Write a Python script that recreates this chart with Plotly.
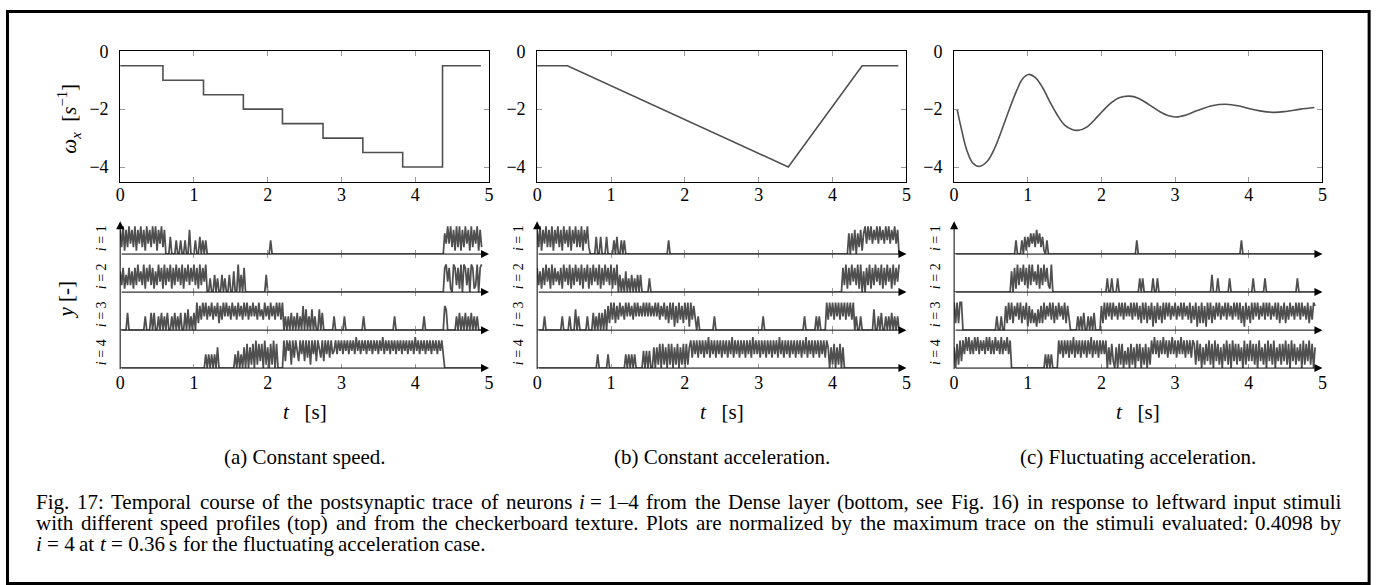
import re
import plotly.graph_objects as go

W, H = 1390, 585
FONT = "Liberation Serif"
DT = 0.02
N = 246  # samples 0 .. 4.90 s

# ---------------- top row: stimulus angular velocity omega_x [1/s] ----------------
a_t = [0.0, 0.58, 1.13, 1.67, 2.20, 2.75, 3.29, 3.83, 4.37, 4.89]
a_w = [-0.5, -1.0, -1.5, -2.0, -2.5, -3.0, -3.5, -4.0, -0.5, -0.5]

b_t = [0.0, 0.41, 3.40, 4.40, 4.89]
b_w = [-0.5, -0.5, -4.0, -0.5, -0.5]

c_t = [0.04, 0.10, 0.17, 0.25, 0.34, 0.45, 0.55, 0.65, 0.75, 0.85, 0.93, 1.01, 1.10,
       1.20, 1.30, 1.40, 1.50, 1.60, 1.69, 1.80, 1.95, 2.10, 2.25, 2.38, 2.50, 2.65,
       2.80, 2.90, 3.01, 3.15, 3.30, 3.50, 3.69, 3.85, 4.00, 4.15, 4.35, 4.50, 4.70, 4.89]
c_w = [-2.0, -2.7, -3.4, -3.85, -3.98, -3.8, -3.35, -2.7, -2.0, -1.35, -0.95, -0.80, -0.90,
       -1.25, -1.75, -2.2, -2.55, -2.7, -2.73, -2.62, -2.25, -1.85, -1.6, -1.55, -1.62, -1.85,
       -2.1, -2.22, -2.27, -2.2, -2.05, -1.88, -1.83, -1.88, -1.98, -2.06, -2.11, -2.08, -2.0, -1.94]

# ---------------- bottom row: postsynaptic traces y (0..9 = 0..max), dt = 0.02 s ----------------
# each entry: (start time [s], successive sample values); samples not listed are 0
a1 = [(0.00, "72817 28372 81738 27183 72838 17382 7"),
      (0.68, "5"), (0.76, "4"), (0.82, "4"), (0.88, "4"), (0.94, "7"),
      (1.02, "4"), (1.08, "5"), (1.12, "4"), (1.16, "4"), (2.04, "4"),
      (4.40, "63838 27182 81728 37182 73817 2")]
a2 = [(0.00, "62715 27261 72836 28173 82716 28371 82738 17283 72817 38273 82718 2738"),
      (1.22, "4"), (1.28, "5"), (1.32, "4"), (1.38, "5"), (1.42, "4"), (1.48, "5"),
      (1.54, "6"), (1.60, "8"), (1.64, "5"), (1.68, "7"), (1.98, "5"),
      (4.38, "07837 10872 71808 72708 71280 78")]
a3 = [(0.10, "5"), (0.34, "4"), (0.42, "5"), (0.46, "5"), (0.52, "4"), (0.56, "5"),
      (0.60, "4"), (0.64, "5"), (0.70, "4"), (0.74, "5"), (0.78, "4"), (0.82, "5"),
      (0.88, "5"), (0.92, "6"), (0.96, "4"), (1.00, "5"),
      (1.04, "82738 48374 83748 27384 84738 47384 73848 37484 73846 38473 84738 4838"),
      (2.24, "4"), (2.28, "4"), (2.32, "5"), (2.36, "4"), (2.40, "5"), (2.44, "4"),
      (2.48, "7"), (2.52, "6"), (2.56, "4"), (2.60, "6"), (2.64, "4"), (2.70, "6"),
      (2.74, "5"), (2.90, "4"), (3.04, "4"), (3.30, "4"), (3.72, "4"), (4.12, "4"),
      (4.40, "76"), (4.56, "4"), (4.60, "5"), (4.64, "4"), (4.68, "5"), (4.72, "4"),
      (4.76, "5"), (4.80, "4"), (4.84, "4")]
a4 = [(1.16, "4"), (1.20, "4"), (1.24, "4"), (1.28, "4"), (1.32, "6"),
      (1.56, "4"), (1.60, "5"), (1.64, "4"), (1.68, "6"),
      (1.72, "70617 08172 70816 07180 7"),
      (2.22, "82858 18385 28482 83818 48285 38284 8384"),
      (2.90, "58485 84858 48584 95848 58485 84858 48594 85848 58485 84858 48584 95848 58485 84858 48584")]

b1 = [(0.00, "72817 38272 81738 27183 72817 38272 81738 2"),
      (0.80, "5"), (0.86, "5"), (0.94, "5"), (1.04, "4"), (1.08, "5"),
      (1.14, "4"), (1.18, "4"), (1.78, "4"),
      (4.22, "60617 06271 6"),
      (4.44, "83848 37483 84738 48374 837")]
b2 = [(0.00, "72617 28371 82736 27183 72817 28372 81738 17283 72817 28372 81728"),
      (1.12, "5"), (1.16, "4"), (1.20, "6"), (1.24, "4"), (1.28, "5"), (1.32, "4"),
      (1.36, "5"), (1.40, "5"), (1.52, "4"),
      (4.14, "72817 28372 81806 07281 72837 28172 83718 2738")]
b3 = [(0.10, "4"), (0.34, "4"), (0.44, "4"), (0.52, "6"), (0.56, "4"), (0.68, "4"),
      (0.76, "5"), (0.80, "4"), (0.84, "5"), (0.88, "5"), (0.92, "6"),
      (0.96, "72838 27384 73848 47384 84748 48484 74848 37483 72838 17283 72838 18373"),
      (2.18, "4"), (2.40, "4"), (3.06, "4"), (3.62, "4"), (3.78, "4"), (3.82, "4"),
      (3.92, "83848 38483 84838 4838"),
      (4.32, "4"), (4.38, "4"), (4.56, "6"), (4.62, "4"), (4.66, "5"), (4.72, "4"),
      (4.76, "4"), (4.80, "5"), (4.84, "4"), (4.88, "4")]
b4 = [(0.82, "4"), (0.96, "4"), (1.20, "4"), (1.24, "4"), (1.28, "4"), (1.32, "4"),
      (1.44, "5"), (1.48, "5"), (1.52, "5"),
      (1.58, "60617 07160 71706 17061 70716"),
      (2.08, "83848 38483 84938 48384 83848 38493 84838 48384 83948 48384 83848 38483 "
             "94838 48384 83848 38493 84838 48384 838"),
      (3.94, "60617 06170 6")]

c1 = [(0.84, "4"), (0.92, "4"), (0.96, "5"),
      (0.98, "15263 62736 251"),
      (1.26, "4"), (2.48, "4"), (3.90, "4")]
c2 = [(0.78, "60718 27382 71828 36281 72837 2180"),
      (2.08, "4"), (2.14, "4"), (2.22, "4"), (2.52, "4"), (2.56, "4"), (2.70, "4"),
      (2.76, "4"), (3.50, "5"), (3.58, "4"), (3.74, "4"), (4.06, "4"), (4.22, "4"), (4.66, "4")]
c3 = [(0.00, "82828 8"),
      (0.58, "4"), (0.64, "4"),
      (0.70, "72838 27483 82738 17262 51627 28374 83827 38473 8273"),
      (1.68, "4"), (1.72, "4"), (1.76, "5"), (1.82, "4"), (1.86, "4"), (1.90, "5"),
      (2.00, "72838 48384 73848 38474 83848 37283 82738 17283 72838 48374 83748 38473 "
             "82738 17282 71838 27384 83748 38473 84838 27183 72838 48374 83848 37483 "
             "82738 27384 73848 38473 82738 7")]
c4 = [(0.00, "60718 2"),
      (0.12, "84959 48495 94858 49594 84958 49485 948"),
      (1.24, "4"), (1.28, "4"), (1.32, "4"),
      (1.42, "84838 48384 93848 38483 84938 48384 848"),
      (2.08, "06172 06071 70516 07160 72706 17061"),
      (2.68, "84948 38494 83849 48384 94838 4838"),
      (3.26, "71827 06172 81708 27160 72817 08271 72608 17282 71708 26170 82718 06271 "
             "72817 08271 62708 17281 706")]

x_ticks = [0, 1, 2, 3, 4, 5]
w_ticks = [0, -2, -4]
w_tick_text = ["0", "\u22122", "\u22124"]
row_labels = ["<i>i</i> = 1", "<i>i</i> = 2", "<i>i</i> = 3", "<i>i</i> = 4"]
sub_captions = ["(a) Constant speed.", "(b) Constant acceleration.", "(c) Fluctuating acceleration."]
caption_lines = [
    ["Fig.", "17:", "Temporal", "course", "of", "the", "postsynaptic", "trace", "of", "neurons",
     "<i>i</i> = 1\u20134", "from", "the", "Dense", "layer", "(bottom,", "see", "Fig.", "16)", "in",
     "response", "to", "leftward", "input", "stimuli"],
    ["with", "different", "speed", "profiles", "(top)", "and", "from", "the", "checkerboard",
     "texture.", "Plots", "are", "normalized", "by", "the", "maximum", "trace", "on", "the",
     "stimuli", "evaluated:", "0.4098", "by"],
    ["<i>i</i> = 4", "at", "<i>t</i> = 0.36", "s", "for", "the", "fluctuating", "acceleration", "case."],
]

# ---------------- helpers ----------------
t_grid = [round(k * DT, 2) for k in range(N)]


def expand(events):
    v = [0] * N
    for t0, s in events:
        s = s.replace(" ", "")
        k0 = int(round(t0 / DT))
        for j, ch in enumerate(s):
            if k0 + j < N:
                v[k0 + j] = int(ch)
    return v


_TW = {}
for chars, w in [(" ,.", 250), ("ijlt:;/", 278), ("()[]-fr!I", 333), ("sJ", 389),
                 ("acez", 444), ("bdghknopquvxy0123456789\u2013", 500), ("FPS", 556),
                 ("=", 564), ("ETLZ", 611), ("BCR", 667), ("ADGHKNOQUVXYw", 722),
                 ("m", 778), ("M", 889), ("W", 944)]:
    for ch in chars:
        _TW[ch] = w


def text_width(s, size):
    s = re.sub("<[^>]+>", "", s)
    return sum(_TW.get(ch, 500) for ch in s) * size / 1000.0


def px(x):
    return x / W


def py(y):
    return 1 - y / H


def label(x, y, s, size, angle=0, xanchor="center", yanchor="middle"):
    return dict(x=px(x), y=py(y), xref="paper", yref="paper", text=s, showarrow=False,
                font=dict(family=FONT, size=size, color="black"), textangle=angle,
                xanchor=xanchor, yanchor=yanchor, borderpad=0, borderwidth=0)


# ---------------- geometry (pixels) ----------------
PANEL_X = [(116, 487.5), (536, 908), (956, 1327)]
TOP_Y = (42, 174.5)
BASE = [248.3, 287.0, 325.7, 364.3]
ROWH = 38.67

LINE_C = "#505050"
TICK_C = "#9a9a9a"
TICKFONT = dict(family=FONT, size=18, color="black")

fig = go.Figure()
layout = dict(width=W, height=H, margin=dict(l=0, r=0, t=0, b=0),
              paper_bgcolor="white", plot_bgcolor="rgba(0,0,0,0)", showlegend=False)
annotations = []
shapes = []

top_series = [(a_t, a_w, "hv"), (b_t, b_w, "linear"), (c_t, c_w, "spline")]
bottom_series = [[a1, a2, a3, a4], [b1, b2, b3, b4], [c1, c2, c3, c4]]


def ax_name(kind, n):
    return f"{kind}axis" if n == 1 else f"{kind}axis{n}"


def ref(kind, n):
    return kind if n == 1 else f"{kind}{n}"


for p in range(3):
    x0, x1 = PANEL_X[p]
    n = p + 1
    layout[ax_name("x", n)] = dict(
        domain=[px(x0), px(x1)], range=[0, 5], anchor=ref("y", n),
        showline=True, linecolor="black", linewidth=1, mirror="ticks",
        ticks="inside", ticklen=5, tickcolor=TICK_C, tickwidth=1,
        tickvals=x_ticks, tickfont=TICKFONT, ticklabelstandoff=-3,
        showgrid=False, zeroline=False)
    layout[ax_name("y", n)] = dict(
        domain=[py(TOP_Y[1]), py(TOP_Y[0])], range=[-4.5, 0], anchor=ref("x", n),
        showline=True, linecolor="black", linewidth=1, mirror="ticks",
        ticks="inside", ticklen=5, tickcolor=TICK_C, tickwidth=1,
        tickvals=w_ticks, ticktext=w_tick_text, tickfont=TICKFONT, ticklabelstandoff=7,
        showgrid=False, zeroline=False)
    tx, ty, shp = top_series[p]
    line = dict(color=LINE_C, width=1.6, shape=shp)
    if shp == "spline":
        line["smoothing"] = 1.0
    fig.add_trace(go.Scatter(x=tx, y=ty, mode="lines", line=line,
                             xaxis=ref("x", n), yaxis=ref("y", n), hoverinfo="skip"))

    for r in range(4):
        m = 4 + p * 4 + r
        base = BASE[r]
        layout[ax_name("x", m)] = dict(
            domain=[px(x0), px(x1)], range=[0, 5], anchor=ref("y", m),
            showline=False, mirror=("ticks" if r > 0 else False),
            ticks="inside", ticklen=4, tickcolor=TICK_C, tickwidth=1,
            tickvals=x_ticks, showticklabels=(r == 3), tickfont=TICKFONT,
            ticklabelstandoff=2, showgrid=False, zeroline=False)
        layout[ax_name("y", m)] = dict(
            domain=[py(base), py(base - ROWH)], range=[0, 11], anchor=ref("x", m),
            visible=False, showgrid=False, zeroline=False)
        vals = expand(bottom_series[p][r])
        fig.add_trace(go.Scatter(x=t_grid, y=vals, mode="lines",
                                 line=dict(color="#4f4f4f", width=1.75),
                                 xaxis=ref("x", m), yaxis=ref("y", m), hoverinfo="skip"))
        # baseline arrow
        annotations.append(dict(x=5, y=0, xref=ref("x", m), yref=ref("y", m),
                                ax=0, ay=0, axref=ref("x", m), ayref=ref("y", m),
                                showarrow=True, arrowhead=2, arrowsize=1.6, arrowwidth=1,
                                arrowcolor="black", text="", standoff=0, startstandoff=0))
        annotations.append(label(x0 - 18, base - 16.5, row_labels[r], 14, angle=-90))
    # vertical y arrow
    m4 = 4 + p * 4 + 3
    annotations.append(dict(x=0, xref=ref("x", m4), y=py(215), yref="paper",
                            ax=0, ay=BASE[3] - 215, showarrow=True, arrowhead=2,
                            arrowsize=1.6, arrowwidth=1, arrowcolor="black", text="",
                            standoff=0, startstandoff=0))
    cx = (x0 + x1) / 2
    annotations.append(label(cx, 409, "<i>t</i>\u00a0\u00a0\u00a0[s]", 21))
    annotations.append(label(cx, 455, sub_captions[p], 21))

annotations.append(label(64, 111, "<i>\u03c9<sub>x</sub></i>\u00a0\u00a0[<i>s</i><sup>\u22121</sup>]", 21, angle=-90))
annotations.append(label(61, 295, "<i>y</i>\u00a0[-]", 21, angle=-90))

# caption: lines 1-2 justified between the text margins, line 3 flush left
CAP_X0, CAP_X1 = 31, 1346
CAP_SIZE = 21
CAP_Y = [501, 522, 543]
for li, words in enumerate(caption_lines):
    widths = [text_width(w_, CAP_SIZE) for w_ in words]
    sp = text_width(" ", CAP_SIZE)
    nat = sum(widths) + sp * (len(words) - 1)
    gap = sp
    if li < 2:
        gap = sp + max(0.0, (CAP_X1 - CAP_X0 - nat)) / (len(words) - 1)
    x = CAP_X0
    for w_, wd in zip(words, widths):
        annotations.append(label(x, CAP_Y[li], w_, CAP_SIZE, xanchor="left"))
        x += wd + gap

# outer frame
shapes.append(dict(type="rect", xref="paper", yref="paper",
                   x0=px(2.5), x1=px(1374), y0=py(583.5), y1=py(1.5),
                   line=dict(color="black", width=3), fillcolor="rgba(0,0,0,0)"))

layout["annotations"] = annotations
layout["shapes"] = shapes
fig.update_layout(**layout)
fig.write_html("out.html")
